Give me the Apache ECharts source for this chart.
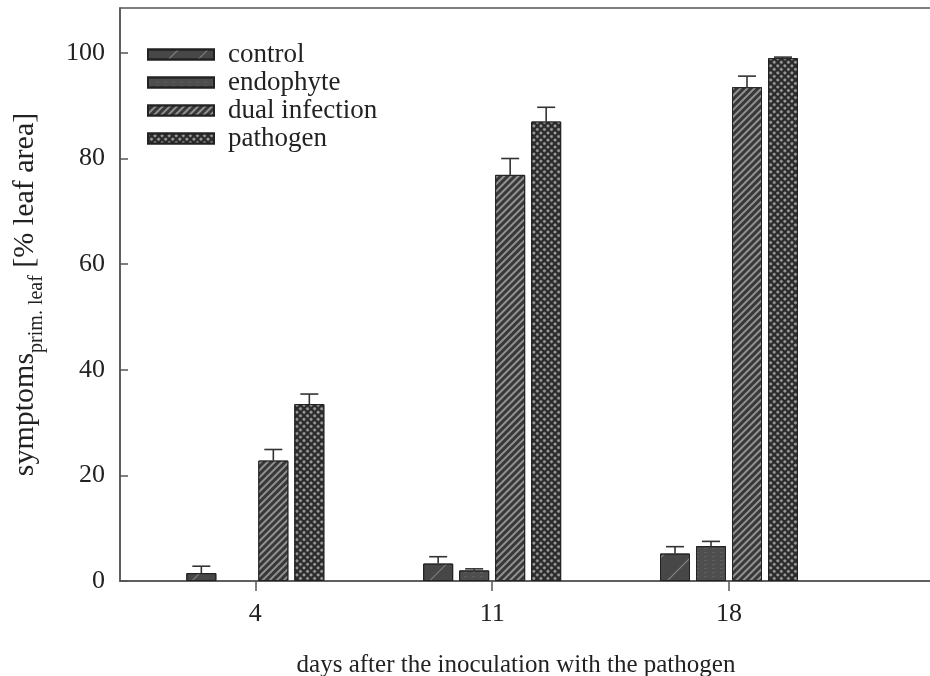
<!DOCTYPE html>
<html>
<head>
<meta charset="utf-8">
<script src="https://cdn.jsdelivr.net/npm/echarts@6/dist/echarts.min.js"></script>
<style>
  html, body { margin: 0; padding: 0; background: #fff; }
  #chart { width: 930px; height: 676px; }
</style>
</head>
<body>
<div id="chart"></div>
<script>
// data
var days = [4, 11, 18];
var yTicks = [0, 20, 40, 60, 80, 100];
var names = ['control', 'endophyte', 'dual infection', 'pathogen'];
var control = [1.5, 3.3, 5.2];
var controlErr = [1.3, 1.3, 1.3];
var endophyte = [0, 2.0, 6.6];
var endophyteErr = [0, 0.3, 0.9];
var dual = [22.8, 76.9, 93.5];
var dualErr = [2.1, 3.1, 2.1];
var pathogen = [33.5, 87.0, 99.0];
var pathogenErr = [1.9, 2.7, 0.2];

var values = [control, endophyte, dual, pathogen];
var errs = [controlErr, endophyteErr, dualErr, pathogenErr];

var BAR_W = 30, BAR_GAP = 6;
var font = 'Liberation Serif';
var ink = '#222';
var axisColor = '#555';

var fills = ['#474747', '#4e4e4e', '#383838', '#2a2a2a'];
var decals = [
  { symbol: 'rect', symbolSize: 1, dashArrayX: [1, 0], dashArrayY: [1, 20], rotation: -Math.PI / 4, color: 'rgba(160,160,160,0.7)' },
  { symbol: 'rect', symbolSize: 1, dashArrayX: [3, 5], dashArrayY: [1, 3], rotation: 0, color: 'rgba(105,105,105,0.6)' },
  { symbol: 'rect', symbolSize: 1, dashArrayX: [1, 0], dashArrayY: [2, 3], rotation: -Math.PI / 4, color: 'rgba(150,150,150,0.95)' },
  { symbol: 'circle', symbolSize: 1, dashArrayX: [3, 2], dashArrayY: [3, 2], rotation: Math.PI / 4, color: 'rgba(175,175,175,0.9)' }
];

var series = [];
names.forEach(function (n, k) {
  series.push({
    name: n,
    type: 'bar',
    barWidth: BAR_W,
    barGap: (BAR_GAP / BAR_W * 100) + '%',
    itemStyle: { color: fills[k], borderColor: '#222', borderWidth: 1, decal: decals[k] },
    data: days.map(function (d, i) { return [d, values[k][i] > 0 ? values[k][i] : '-']; })
  });
});

var errData = [];
names.forEach(function (n, k) {
  days.forEach(function (d, i) {
    if (errs[k][i] > 0) errData.push([d, values[k][i], values[k][i] + errs[k][i], k]);
  });
});

series.push({
  type: 'custom',
  silent: true,
  z: 5,
  renderItem: function (params, api) {
    var k = api.value(3);
    var off = (k - 1.5) * (BAR_W + BAR_GAP);
    var p0 = api.coord([api.value(0), api.value(1)]);
    var p1 = api.coord([api.value(0), api.value(2)]);
    var x = p0[0] + off;
    var st = { stroke: '#333', lineWidth: 1.6 };
    return {
      type: 'group',
      children: [
        { type: 'line', shape: { x1: x, y1: p0[1], x2: x, y2: p1[1] }, style: st },
        { type: 'line', shape: { x1: x - 9, y1: p1[1], x2: x + 9, y2: p1[1] }, style: st }
      ]
    };
  },
  data: errData
});

var myChart = echarts.init(document.getElementById('chart'));
var option = {
  backgroundColor: '#fff',
  animation: false,
  textStyle: { fontFamily: font, color: ink },
  grid: {
    left: 120, right: -2, top: 8, bottom: 95,
    outerBoundsMode: 'none',
    containLabel: false,
    show: true, borderColor: axisColor, borderWidth: 1.5
  },
  legend: {
    data: names,
    orient: 'vertical',
    left: 142, top: 36,
    itemWidth: 66, itemHeight: 10, itemGap: 1,
    icon: 'rect',
    textStyle: { fontFamily: font, fontSize: 27, color: ink, padding: [0, 0, 0, 9] }
  },
  xAxis: {
    type: 'value',
    min: 0, max: 24,
    name: 'days after the inoculation with the pathogen',
    nameLocation: 'middle',
    nameGap: 72,
    nameTextStyle: { fontFamily: font, fontSize: 25, color: ink, padding: [0, 20, 0, 0] },
    splitLine: { show: false },
    axisLine: { lineStyle: { color: axisColor, width: 1.5 } },
    axisTick: { customValues: days, length: 10, inside: false, lineStyle: { color: axisColor, width: 1.5 } },
    axisLabel: { customValues: days, fontFamily: font, fontSize: 26, color: ink, margin: 20 }
  },
  yAxis: {
    type: 'value',
    min: 0, max: 108.5,
    name: '{m|symptoms}{s|prim. leaf}{m| [% leaf area]}',
    nameLocation: 'middle',
    nameRotate: 90,
    nameGap: 66,
    nameTextStyle: {
      rich: {
        m: { fontFamily: font, fontSize: 30, color: ink, height: 34, verticalAlign: 'top' },
        s: { fontFamily: font, fontSize: 20, color: ink, height: 34, verticalAlign: 'bottom', padding: [12, 0, 0, 0] }
      }
    },
    splitLine: { show: false },
    axisLine: { lineStyle: { color: axisColor, width: 1.5 } },
    axisTick: { customValues: yTicks, inside: true, length: 8, lineStyle: { color: axisColor, width: 1.5 } },
    axisLabel: { customValues: yTicks, fontFamily: font, fontSize: 26, color: ink, margin: 15 }
  },
  series: series
};
myChart.setOption(option, true);
</script>
</body>
</html>
